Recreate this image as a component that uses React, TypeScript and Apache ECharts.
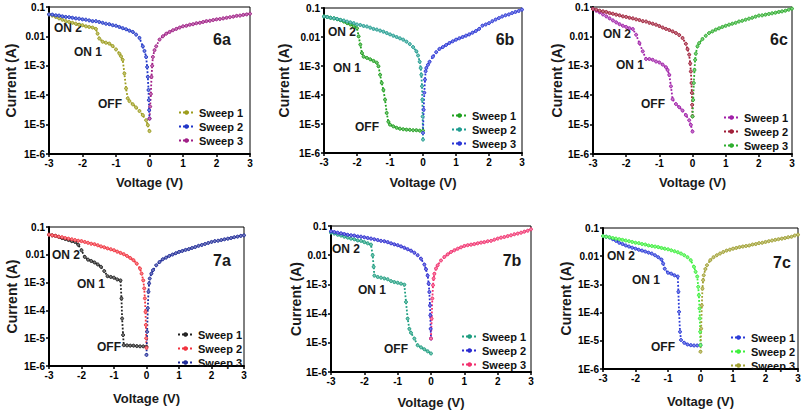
import React, { useEffect, useRef } from "react";
import * as echarts from "echarts";

const FONT = '"Liberation Sans", Arial, sans-serif';
const SWEEP_NAMES = ["Sweep 1", "Sweep 2", "Sweep 3"];
const Y_TICK_LABELS = ["1E-6", "1E-5", "1E-4", "1E-3", "0.01", "0.1"];
const X_MIN = -3;
const X_MAX = 3;

// shared voltage grids for sweep 2 (negative branch) and sweep 3 (positive branch)
const V_SW2 = [-3, -2.9, -2.8, -2.7, -2.6, -2.5, -2.4, -2.3, -2.2, -2.1, -2, -1.9, -1.8, -1.7, -1.6, -1.5, -1.4, -1.3, -1.2, -1.1, -1, -0.9, -0.8, -0.7, -0.6, -0.5, -0.4, -0.3, -0.2, -0.15, -0.1, -0.07, -0.05, -0.03, -0.02, -0.01, 0];
const V_SW3 = [0, 0.02, 0.04, 0.06, 0.08, 0.1, 0.15, 0.2, 0.3, 0.4, 0.5, 0.6, 0.7, 0.8, 0.9, 1, 1.1, 1.2, 1.3, 1.4, 1.5, 1.6, 1.7, 1.8, 1.9, 2, 2.1, 2.2, 2.3, 2.4, 2.5, 2.6, 2.7, 2.8, 2.9, 3];

// ---- 6a ----
const S1_6A = [[-3, 0.056], [-2.9, 0.051], [-2.8, 0.046], [-2.7, 0.041], [-2.6, 0.037], [-2.5, 0.033], [-2.4, 0.031], [-2.3, 0.029], [-2.2, 0.027], [-2.1, 0.025], [-2, 0.024], [-1.9, 0.022], [-1.8, 0.021], [-1.7, 0.02], [-1.6, 0.018], [-1.55, 0.0124], [-1.5, 0.0085], [-1.4, 0.0066], [-1.3, 0.0061], [-1.2, 0.0057], [-1.1, 0.0047], [-1, 0.0036], [-0.9, 0.0026], [-0.85, 0.0021], [-0.8, 0.0016], [-0.75, 5.5e-4], [-0.7, 1.7e-4], [-0.65, 7.8e-5], [-0.6, 6.3e-5], [-0.5, 4.9e-5], [-0.4, 3.8e-5], [-0.3, 2.9e-5], [-0.2, 2.1e-5], [-0.1, 1.4e-5], [-0.05, 9.6e-6], [0, 6.0e-6]];
const S2_6A = [0.056, 0.055, 0.052, 0.051, 0.048, 0.046, 0.045, 0.043, 0.041, 0.04, 0.038, 0.037, 0.035, 0.033, 0.033, 0.031, 0.029, 0.027, 0.026, 0.024, 0.023, 0.021, 0.019, 0.0175, 0.0157, 0.0142, 0.0115, 0.0089, 0.0046, 0.0032, 0.002, 9.1e-4, 4.2e-4, 1.5e-4, 6.8e-5, 3.1e-5, 1.6e-5];
const S3_6A = [1.6e-5, 4.1e-5, 1.1e-4, 4.2e-4, 1.0e-3, 2.0e-3, 3.4e-3, 4.6e-3, 0.0078, 0.0101, 0.0124, 0.0142, 0.0162, 0.018, 0.02, 0.022, 0.023, 0.025, 0.026, 0.028, 0.029, 0.031, 0.033, 0.034, 0.036, 0.038, 0.039, 0.041, 0.043, 0.045, 0.047, 0.05, 0.051, 0.054, 0.056, 0.059];

// ---- 6b ----
const S1_6B = [[-3, 0.051], [-2.9, 0.049], [-2.8, 0.046], [-2.7, 0.044], [-2.6, 0.041], [-2.5, 0.038], [-2.4, 0.034], [-2.3, 0.03], [-2.2, 0.027], [-2.1, 0.024], [-2, 0.02], [-1.95, 0.0105], [-1.9, 0.0055], [-1.85, 0.0028], [-1.8, 0.0021], [-1.7, 0.0019], [-1.6, 0.0017], [-1.5, 0.0015], [-1.4, 0.0013], [-1.35, 9.8e-4], [-1.3, 5.0e-4], [-1.25, 2.6e-4], [-1.2, 1.5e-4], [-1.15, 6.9e-5], [-1.1, 2.4e-5], [-1.05, 1.2e-5], [-1, 9.5e-6], [-0.9, 8.3e-6], [-0.8, 7.4e-6], [-0.7, 6.9e-6], [-0.6, 6.6e-6], [-0.5, 6.4e-6], [-0.4, 6.3e-6], [-0.3, 6.1e-6], [-0.2, 6.1e-6], [-0.1, 5.9e-6], [0, 5.9e-6]];
const S2_6B = [0.051, 0.049, 0.046, 0.044, 0.042, 0.039, 0.037, 0.034, 0.032, 0.03, 0.027, 0.026, 0.024, 0.023, 0.021, 0.019, 0.018, 0.0166, 0.0153, 0.0137, 0.0123, 0.0111, 0.01, 0.009, 0.0081, 0.0069, 0.0057, 0.0045, 0.0032, 0.0023, 0.0014, 8.5e-4, 5.0e-4, 2.0e-4, 6.9e-5, 1.8e-5, 2.9e-6];
const S3_6B = [4.9e-6, 3.1e-5, 1.2e-4, 3.4e-4, 6.6e-4, 8.5e-4, 1.1e-3, 0.0014, 0.0021, 0.003, 0.0039, 0.0045, 0.0053, 0.0062, 0.0071, 0.0081, 0.009, 0.01, 0.0111, 0.0123, 0.0141, 0.0161, 0.019, 0.0246, 0.027, 0.03, 0.035, 0.04, 0.045, 0.051, 0.056, 0.06, 0.067, 0.073, 0.079, 0.088];

// ---- 6c ----
const S1_6C = [[-3, 0.085], [-2.9, 0.075], [-2.8, 0.066], [-2.7, 0.056], [-2.6, 0.048], [-2.5, 0.041], [-2.4, 0.035], [-2.3, 0.03], [-2.2, 0.026], [-2.1, 0.023], [-2, 0.021], [-1.9, 0.019], [-1.8, 0.0178], [-1.7, 0.0114], [-1.6, 0.0059], [-1.5, 0.0031], [-1.4, 0.0017], [-1.3, 0.0017], [-1.2, 0.0016], [-1.1, 0.0014], [-1, 0.0013], [-0.9, 0.0011], [-0.8, 8.9e-4], [-0.75, 7.2e-4], [-0.7, 4.9e-4], [-0.65, 2.0e-4], [-0.6, 7.3e-5], [-0.5, 5.0e-5], [-0.4, 3.9e-5], [-0.3, 3.0e-5], [-0.2, 2.1e-5], [-0.1, 1.4e-5], [-0.05, 9.8e-6], [0, 5.8e-6]];
const S2_6C = [0.085, 0.081, 0.075, 0.071, 0.068, 0.062, 0.059, 0.055, 0.052, 0.048, 0.046, 0.043, 0.041, 0.038, 0.036, 0.033, 0.032, 0.029, 0.027, 0.025, 0.0225, 0.02, 0.018, 0.0165, 0.0148, 0.013, 0.0111, 0.0088, 0.0056, 0.0037, 0.0024, 0.0012, 6.4e-4, 2.6e-4, 1.2e-4, 4.7e-5, 1.9e-5];
const S3_6C = [1.9e-5, 6.9e-5, 2.6e-4, 7.2e-4, 0.0016, 0.0026, 0.0046, 0.0059, 0.0081, 0.0105, 0.013, 0.0148, 0.017, 0.0188, 0.021, 0.023, 0.025, 0.027, 0.029, 0.032, 0.034, 0.037, 0.04, 0.043, 0.047, 0.051, 0.052, 0.055, 0.058, 0.061, 0.064, 0.068, 0.071, 0.075, 0.081, 0.088];

// ---- 7a ----
const S1_7A = [[-3, 0.053], [-2.9, 0.05], [-2.8, 0.048], [-2.7, 0.044], [-2.6, 0.04], [-2.5, 0.037], [-2.4, 0.034], [-2.3, 0.031], [-2.2, 0.029], [-2.1, 0.023], [-2, 0.0146], [-1.9, 0.0084], [-1.8, 0.0067], [-1.7, 0.006], [-1.6, 0.0053], [-1.5, 0.0045], [-1.4, 0.0037], [-1.3, 0.0026], [-1.2, 0.0017], [-1.1, 0.0016], [-1, 0.0015], [-0.9, 0.0013], [-0.8, 0.0012], [-0.77, 2.7e-4], [-0.75, 5.1e-5], [-0.72, 1.3e-5], [-0.7, 5.6e-6], [-0.6, 5.5e-6], [-0.5, 5.4e-6], [-0.4, 5.4e-6], [-0.3, 5.2e-6], [-0.2, 5.1e-6], [-0.1, 5.1e-6], [0, 4.9e-6]];
const S2_7A = [0.053, 0.05, 0.048, 0.045, 0.043, 0.04, 0.038, 0.036, 0.034, 0.032, 0.031, 0.029, 0.027, 0.025, 0.024, 0.022, 0.02, 0.0186, 0.017, 0.0158, 0.0146, 0.013, 0.0117, 0.0105, 0.0091, 0.0077, 0.0064, 0.0048, 0.0032, 0.0021, 0.0012, 6.2e-4, 2.7e-4, 8.9e-5, 3.0e-5, 9.9e-6, 4.5e-6];
const S3_7A = [2.5e-6, 1.7e-5, 1.2e-4, 4.7e-4, 9.3e-4, 0.0014, 0.0021, 0.0028, 0.0042, 0.0055, 0.0069, 0.0079, 0.0091, 0.0102, 0.0114, 0.0127, 0.0137, 0.015, 0.016, 0.0176, 0.019, 0.021, 0.0226, 0.0245, 0.0266, 0.029, 0.031, 0.032, 0.034, 0.036, 0.038, 0.04, 0.043, 0.045, 0.048, 0.05];

// ---- 7b ----
const S1_7B = [[-3, 0.059], [-2.9, 0.055], [-2.8, 0.05], [-2.7, 0.047], [-2.6, 0.043], [-2.5, 0.04], [-2.4, 0.037], [-2.3, 0.035], [-2.2, 0.032], [-2.1, 0.031], [-2, 0.028], [-1.9, 0.0255], [-1.8, 0.023], [-1.75, 0.0099], [-1.72, 0.004], [-1.7, 0.002], [-1.6, 0.0018], [-1.5, 0.0017], [-1.4, 0.0016], [-1.3, 0.0015], [-1.2, 0.0013], [-1.1, 0.0012], [-1, 0.00114], [-0.9, 0.00106], [-0.8, 9.8e-4], [-0.75, 2.5e-4], [-0.7, 6.7e-5], [-0.65, 3.0e-5], [-0.6, 2.2e-5], [-0.5, 1.4e-5], [-0.4, 8.2e-6], [-0.3, 7.0e-6], [-0.2, 6.0e-6], [-0.1, 5.1e-6], [0, 4.3e-6]];
const S2_7B = [0.066, 0.062, 0.059, 0.056, 0.053, 0.05, 0.048, 0.047, 0.044, 0.043, 0.041, 0.039, 0.037, 0.035, 0.033, 0.031, 0.03, 0.028, 0.0255, 0.0235, 0.022, 0.02, 0.018, 0.016, 0.0143, 0.0122, 0.01, 0.0076, 0.0048, 0.0033, 0.002, 0.00106, 5.5e-4, 1.9e-4, 8.7e-5, 3.0e-5, 1.4e-5];
const S3_7B = [1.4e-5, 6.7e-5, 3.3e-4, 9.3e-4, 0.0016, 0.0023, 0.0035, 0.0045, 0.0066, 0.0087, 0.0107, 0.0129, 0.0147, 0.0167, 0.0186, 0.0207, 0.022, 0.023, 0.024, 0.0255, 0.027, 0.028, 0.03, 0.031, 0.034, 0.037, 0.04, 0.042, 0.045, 0.048, 0.052, 0.055, 0.059, 0.064, 0.069, 0.077];

// ---- 7c ----
const S1_7C = [[-3, 0.052], [-2.9, 0.049], [-2.8, 0.046], [-2.7, 0.04], [-2.6, 0.035], [-2.5, 0.03], [-2.4, 0.027], [-2.3, 0.024], [-2.2, 0.022], [-2.1, 0.02], [-2, 0.0185], [-1.9, 0.017], [-1.8, 0.0158], [-1.7, 0.0146], [-1.6, 0.0134], [-1.5, 0.0124], [-1.4, 0.0108], [-1.3, 0.0092], [-1.2, 0.0076], [-1.15, 0.0055], [-1.1, 0.0036], [-1, 0.0026], [-0.9, 0.0024], [-0.8, 0.0021], [-0.7, 0.0019], [-0.68, 5.5e-4], [-0.66, 1.07e-4], [-0.63, 2.1e-5], [-0.6, 1.07e-5], [-0.5, 8.5e-6], [-0.4, 7.4e-6], [-0.3, 7.0e-6], [-0.2, 6.8e-6], [-0.1, 6.8e-6], [0, 7.0e-6]];
const S2_7C = [0.052, 0.049, 0.047, 0.044, 0.042, 0.04, 0.038, 0.036, 0.034, 0.032, 0.03, 0.029, 0.027, 0.026, 0.024, 0.023, 0.022, 0.021, 0.0196, 0.0185, 0.0176, 0.0162, 0.015, 0.0138, 0.0124, 0.0108, 0.0092, 0.0072, 0.0042, 0.0028, 0.0019, 8.2e-4, 4.1e-4, 1.4e-4, 6.2e-5, 2.1e-5, 7.0e-6];
const S3_7C = [4.1e-6, 2.7e-5, 1.8e-4, 7.1e-4, 0.0014, 0.0021, 0.0035, 0.0048, 0.0072, 0.0092, 0.0108, 0.0124, 0.0141, 0.0158, 0.017, 0.0185, 0.0196, 0.021, 0.022, 0.023, 0.024, 0.026, 0.027, 0.029, 0.03, 0.032, 0.034, 0.036, 0.038, 0.04, 0.042, 0.044, 0.047, 0.049, 0.054, 0.058];

type Note = { text: string; x: number; y: number };
type Panel = {
  tag: string;
  box: { left: number; top: number; width: number; height: number };
  grid: { left: number; top: number; width: number; height: number };
  xGap: number;
  yGap: number;
  legendPos: { left: number; top: number };
  colors: string[];
  s1: number[][];
  s2: number[];
  s3: number[];
  notes: Note[];
  tagPos: { x: number; y: number };
};

const PANELS: Panel[] = [
  {
    tag: "6a",
    box: { left: 0, top: 0, width: 268, height: 205 },
    grid: { left: 49, top: 7, width: 201, height: 147 },
    xGap: 22, yGap: 31,
    legendPos: { left: 178, top: 107 },
    colors: ["#9c9c1c", "#1f35c8", "#a01e86"],
    s1: S1_6A, s2: S2_6A, s3: S3_6A,
    notes: [{ text: "ON 2", x: 68, y: 28 }, { text: "ON 1", x: 88, y: 52 }, { text: "OFF", x: 110, y: 104 }],
    tagPos: { x: 222, y: 39 },
  },
  {
    tag: "6b",
    box: { left: 268, top: 0, width: 267, height: 205 },
    grid: { left: 56, top: 8, width: 198, height: 145 },
    xGap: 23, yGap: 33,
    legendPos: { left: 183, top: 110 },
    colors: ["#1ea01e", "#1f9c90", "#2a36d6"],
    s1: S1_6B, s2: S2_6B, s3: S3_6B,
    notes: [{ text: "ON 2", x: 74, y: 32 }, { text: "ON 1", x: 79, y: 68 }, { text: "OFF", x: 99, y: 127 }],
    tagPos: { x: 237, y: 39 },
  },
  {
    tag: "6c",
    box: { left: 535, top: 0, width: 268, height: 205 },
    grid: { left: 58, top: 7, width: 199, height: 147 },
    xGap: 22, yGap: 29,
    legendPos: { left: 188, top: 112 },
    colors: ["#a01ea8", "#a01e38", "#2eae2e"],
    s1: S1_6C, s2: S2_6C, s3: S3_6C,
    notes: [{ text: "ON 2", x: 82, y: 34 }, { text: "ON 1", x: 95, y: 65 }, { text: "OFF", x: 118, y: 104 }],
    tagPos: { x: 244, y: 39 },
  },
  {
    tag: "7a",
    box: { left: 0, top: 205, width: 268, height: 206 },
    grid: { left: 49, top: 22, width: 195, height: 139 },
    xGap: 26, yGap: 30,
    legendPos: { left: 177, top: 124 },
    colors: ["#222222", "#f2323e", "#1e2a98"],
    s1: S1_7A, s2: S2_7A, s3: S3_7A,
    notes: [{ text: "ON 2", x: 66, y: 50 }, { text: "ON 1", x: 91, y: 79 }, { text: "OFF", x: 109, y: 142 }],
    tagPos: { x: 222, y: 55 },
  },
  {
    tag: "7b",
    box: { left: 268, top: 205, width: 267, height: 206 },
    grid: { left: 63, top: 21, width: 200, height: 146 },
    xGap: 24, yGap: 28,
    legendPos: { left: 193, top: 126 },
    colors: ["#1e9e80", "#2a2ad0", "#f2306e"],
    s1: S1_7B, s2: S2_7B, s3: S3_7B,
    notes: [{ text: "ON 2", x: 78, y: 44 }, { text: "ON 1", x: 104, y: 85 }, { text: "OFF", x: 128, y: 144 }],
    tagPos: { x: 244, y: 55 },
  },
  {
    tag: "7c",
    box: { left: 535, top: 205, width: 268, height: 206 },
    grid: { left: 68, top: 23, width: 195, height: 141 },
    xGap: 26, yGap: 30,
    legendPos: { left: 195, top: 127 },
    colors: ["#2a3ad8", "#3cf03c", "#a0a030"],
    s1: S1_7C, s2: S2_7C, s3: S3_7C,
    notes: [{ text: "ON 2", x: 86, y: 51 }, { text: "ON 1", x: 111, y: 75 }, { text: "OFF", x: 128, y: 142 }],
    tagPos: { x: 247, y: 57 },
  },
];

function lighten(hex: string, f: number): string {
  const n = parseInt(hex.slice(1), 16);
  const r = (n >> 16) & 255, g = (n >> 8) & 255, b = n & 255;
  const m = (c: number) => Math.round(c + (255 - c) * f);
  return `rgb(${m(r)},${m(g)},${m(b)})`;
}

function PanelChart({ p }: { p: Panel }) {
  const ref = useRef<HTMLDivElement>(null);
  useEffect(() => {
    if (!ref.current) return;
    const chart = echarts.init(ref.current, null, { renderer: "svg" });
    const data = [
      p.s1,
      V_SW2.map((v, i) => [v, p.s2[i]]),
      V_SW3.map((v, i) => [v, p.s3[i]]),
    ];
    const axisLine = { show: true, onZero: false, lineStyle: { color: "#000", width: 2 } };
    const axisTick = { show: true, length: 3, lineStyle: { color: "#000", width: 1.5 } };
    const tickLabel = { fontSize: 10, fontWeight: "bold", color: "#000", fontFamily: FONT };
    const nameStyle = { fontSize: 13, fontWeight: "bold", color: "#1a1a1a", fontFamily: FONT };
    chart.setOption({
      animation: false,
      textStyle: { fontFamily: FONT },
      grid: { ...p.grid, show: true, borderColor: "#000", borderWidth: 1, containLabel: false, outerBoundsMode: "none" },
      xAxis: {
        type: "value",
        min: X_MIN,
        max: X_MAX,
        interval: 1,
        axisLine,
        axisTick,
        axisLabel: { ...tickLabel, margin: 4 },
        splitLine: { show: false },
        name: "Voltage (V)",
        nameLocation: "middle",
        nameGap: p.xGap,
        nameTextStyle: nameStyle,
      },
      yAxis: {
        type: "log",
        logBase: 10,
        min: 1e-6,
        max: 0.1,
        axisLine,
        axisTick,
        axisLabel: {
          ...tickLabel,
          margin: 4,
          formatter: (v: number) => Y_TICK_LABELS[Math.round(Math.log10(v)) + 6] ?? "",
        },
        splitLine: { show: false },
        minorTick: { show: false },
        name: "Current (A)",
        nameLocation: "middle",
        nameGap: p.yGap,
        nameRotate: 90,
        nameMoveOverlap: false,
        nameTextStyle: { ...nameStyle, fontSize: 14 },
      },
      legend: {
        orient: "vertical",
        left: p.legendPos.left,
        top: p.legendPos.top,
        itemWidth: 15,
        itemHeight: 3,
        itemGap: 3,
        padding: 0,
        selectedMode: false,
        textStyle: { fontSize: 11, fontWeight: "bold", color: "#111", fontFamily: FONT, lineHeight: 11 },
        data: SWEEP_NAMES,
      },
      series: SWEEP_NAMES.map((name, k) => ({
        name,
        type: "line",
        data: data[k],
        symbol: "circle",
        symbolSize: 3,
        showSymbol: true,
        lineStyle: { color: p.colors[k], width: 1.8, type: "dotted" },
        itemStyle: { color: lighten(p.colors[k], 0.4), borderColor: p.colors[k], borderWidth: 1 },
        emphasis: { disabled: true },
      })),
      graphic: [
        ...p.notes.map((n) => ({
          type: "text",
          x: n.x,
          y: n.y,
          style: { text: n.text, align: "center", verticalAlign: "middle", fontSize: 12, fontWeight: "bold", fontFamily: FONT, fill: "#1a1a1a" },
        })),
        {
          type: "text",
          x: p.tagPos.x,
          y: p.tagPos.y,
          style: { text: p.tag, align: "center", verticalAlign: "middle", fontSize: 16, fontWeight: "bold", fontFamily: FONT, fill: "#1a1a1a" },
        },
      ],
    });
    return () => chart.dispose();
  }, [p]);
  return (
    <div
      ref={ref}
      style={{ position: "absolute", left: p.box.left, top: p.box.top, width: p.box.width, height: p.box.height }}
    />
  );
}

export default function App() {
  return (
    <div style={{ position: "absolute", left: 0, top: 0, width: 803, height: 411, background: "#fff", overflow: "hidden" }}>
      {PANELS.map((p) => (
        <PanelChart key={p.tag} p={p} />
      ))}
    </div>
  );
}
